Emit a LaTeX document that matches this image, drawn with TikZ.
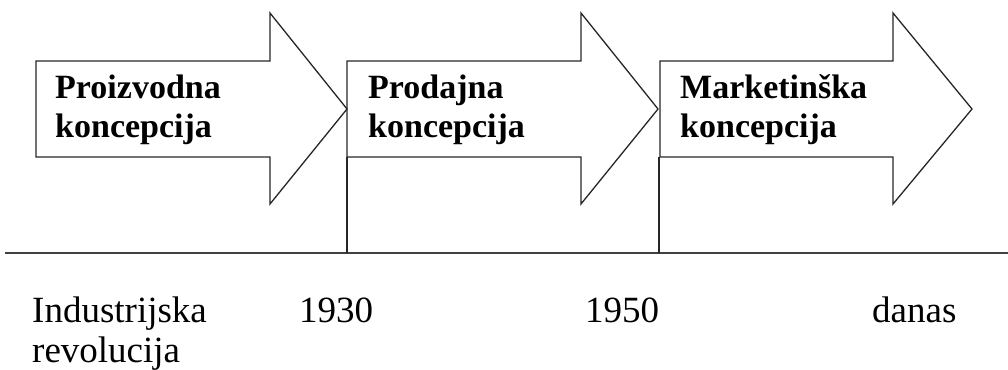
\documentclass[tikz,border=0pt]{standalone}
\usepackage{fontspec}
\setmainfont{Liberation Serif}
\newcommand{\FB}{\fontsize{34}{39}\selectfont\bfseries}
\newcommand{\FR}{\fontsize{37}{40}\selectfont}

\begin{document}
\begin{tikzpicture}[x=1pt,y=-1pt]
\tikzstyle{texto}=[draw=none,fill=none,black,font=\FB,align=left,inner sep=0pt,anchor=base west]
\tikzstyle{godina}=[draw=none,fill=none,black,font=\FR,align=left,inner sep=0pt,anchor=base west]
\tikzstyle{strelica}=[black!85,line width=1.3pt,line join=miter]
\tikzstyle{os}=[black!75,line width=2.2pt]

\useasboundingbox (0,0) rectangle (1008,369);

\draw[strelica] (36,61) -- (270,61) -- (270,13) -- (347,109) -- (270,204) -- (270,157) -- (36,157) -- cycle;
\draw[strelica] (347,61) -- (581,61) -- (581,13) -- (658,109) -- (581,204) -- (581,157) -- (347,157) -- cycle;
\draw[strelica] (660,61) -- (893,61) -- (893,13) -- (972,109) -- (893,204) -- (893,157) -- (660,157) -- cycle;

\coordinate (p1) at (347,157);
\coordinate (p2) at (659,157);
\coordinate (q0) at (5,253);
\coordinate (q1) at (347,253);
\coordinate (q2) at (659,253);
\coordinate (q3) at (1008,253);

\draw[os] (q0) -- (q3);
\draw[strelica] (p1) -- (q1);
\draw[strelica] (p2) -- (q2);

\node[texto] (proizvodna) at (55,137)  {Proizvodna\\koncepcija};
\node[texto] (prodajna)   at (368,137) {Prodajna\\koncepcija};
\node[texto] (marketing)  at (680,137) {Marketinška\\koncepcija};

\node[godina] (industrija) at (32,362)  {Industrijska\\revolucija};
\node[godina] (g1930)      at (299,322) {1930};
\node[godina] (g1950)      at (585,322) {1950};
\node[godina] (danas)      at (872,322) {danas};
\end{tikzpicture}
\end{document}
